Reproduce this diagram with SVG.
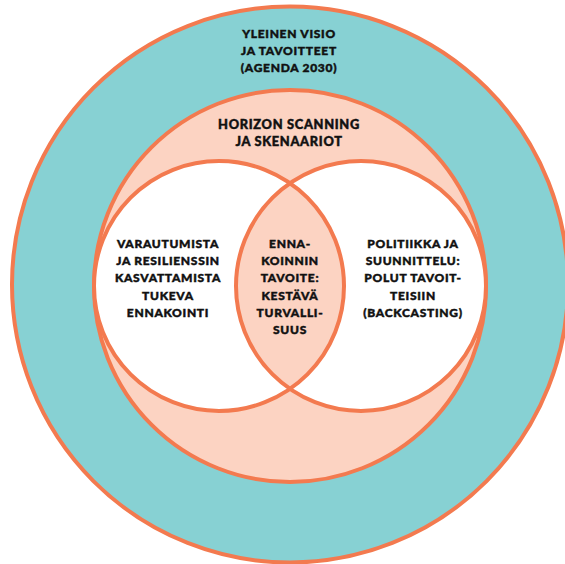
<svg xmlns="http://www.w3.org/2000/svg" width="565" height="564" viewBox="0 0 565 564">
<style>
.ring{stroke:#F37A4F;stroke-width:4}
.lbl{font-family:Lato,"Noto Sans","DejaVu Sans",sans-serif;font-weight:900;font-size:12px;letter-spacing:0.7px;fill:#111;stroke:#111;stroke-width:0.45px;text-anchor:middle}
.big{font-size:12.8px}
</style>
<defs>
<clipPath id="clipR"><circle cx="360" cy="286" r="124"/></clipPath>
</defs>
<rect width="565" height="564" fill="#fff"/>
<g id="vision">
<circle class="ring" cx="290" cy="284.5" r="278" fill="#87D1D3"/>
<text class="lbl"><tspan x="289" y="37.5">YLEINEN VISIO</tspan><tspan x="289" y="54.5">JA TAVOITTEET</tspan><tspan x="289" y="71.5">(AGENDA 2030)</tspan></text>
</g>
<g id="horizon">
<circle class="ring" cx="290" cy="286" r="196" fill="#FCD3C2" stroke-width="3.5"/>
<text class="lbl big"><tspan x="289" y="128.5">HORIZON SCANNING</tspan><tspan x="289" y="145.5">JA SKENAARIOT</tspan></text>
</g>
<g id="varautuminen">
<circle cx="219" cy="286" r="125" fill="#fff"/>
</g>
<g id="politiikka">
<circle cx="361" cy="286" r="125" fill="#fff"/>
</g>
<g id="tavoite">
<circle cx="219" cy="286" r="125" fill="#FCD3C2" clip-path="url(#clipR)"/>
</g>
<g id="connectors"></g>
<g id="outlines" fill="none">
<circle class="ring" cx="219" cy="286" r="125" stroke-width="3.5"/>
<circle class="ring" cx="361" cy="286" r="125" stroke-width="3.5"/>
</g>
<g id="labels">
<text class="lbl"><tspan x="168" y="248">VARAUTUMISTA</tspan><tspan x="168" y="265.2">JA RESILIENSSIN</tspan><tspan x="168" y="282.4">KASVATTAMISTA</tspan><tspan x="168" y="299.6">TUKEVA</tspan><tspan x="168" y="316.8">ENNAKOINTI</tspan></text>
<text class="lbl"><tspan x="290" y="248">ENNA-</tspan><tspan x="290" y="265.2">KOINNIN</tspan><tspan x="290" y="282.4">TAVOITE:</tspan><tspan x="290" y="299.6">KESTÄVÄ</tspan><tspan x="290" y="316.8">TURVALLI-</tspan><tspan x="290" y="334">SUUS</tspan></text>
<text class="lbl"><tspan x="413" y="248">POLITIIKKA JA</tspan><tspan x="413" y="265.2">SUUNNITTELU:</tspan><tspan x="413" y="282.4">POLUT TAVOIT-</tspan><tspan x="413" y="299.6">TEISIIN</tspan><tspan x="413" y="316.8">(BACKCASTING)</tspan></text>
</g>
</svg>
